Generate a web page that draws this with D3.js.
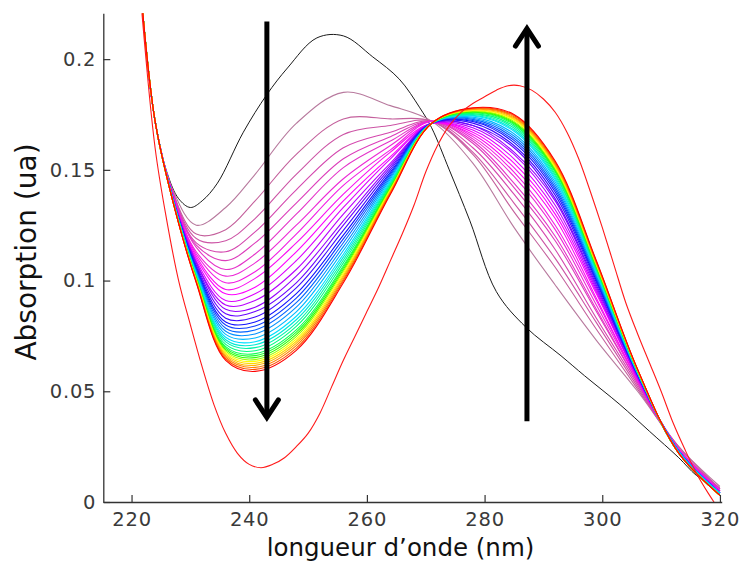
<!DOCTYPE html>
<html><head><meta charset="utf-8">
<script src="https://cdn.jsdelivr.net/npm/d3@7"></script>
<style>html,body{margin:0;padding:0;background:#fff;} svg{display:block;}</style>
</head><body>
<svg id="chart" width="741" height="564"></svg>
<script>
// ---- data ----
const wavelengths = [221.6, 224, 227, 231, 236, 241, 248, 256, 264, 271, 278, 285, 292, 299, 306, 313, 320];
const spectra = [
  [.230,.172,.141,.125,.133,.148,.171,.185,.179,.172,.153,.124,.098,.073,.050,.025,.007],
  [.230,.172,.140,.121,.123,.136,.157,.173,.173,.172,.157,.131,.106,.078,.051,.025,.006],
  [.230,.172,.140,.119,.118,.128,.148,.166,.170,.172,.158,.135,.110,.081,.052,.024,.006],
  [.230,.172,.140,.117,.113,.122,.141,.160,.167,.172,.160,.139,.114,.083,.053,.024,.006],
  [.230,.172,.139,.116,.109,.117,.135,.155,.165,.172,.162,.142,.118,.086,.054,.024,.006],
  [.230,.172,.139,.115,.105,.112,.130,.151,.163,.172,.163,.144,.120,.087,.054,.024,.005],
  [.230,.172,.139,.113,.102,.108,.125,.146,.161,.172,.164,.147,.123,.089,.055,.024,.005],
  [.230,.172,.139,.112,.099,.104,.121,.143,.159,.172,.165,.149,.125,.091,.055,.024,.005],
  [.230,.172,.138,.111,.096,.101,.117,.139,.158,.171,.166,.151,.128,.092,.055,.023,.005],
  [.230,.172,.138,.110,.094,.097,.113,.136,.156,.171,.167,.153,.130,.094,.056,.023,.005],
  [.230,.172,.138,.109,.091,.094,.109,.133,.155,.171,.168,.155,.132,.095,.056,.023,.005],
  [.230,.172,.138,.108,.089,.091,.105,.130,.153,.171,.169,.157,.134,.096,.056,.023,.004],
  [.230,.172,.138,.108,.087,.088,.102,.127,.152,.171,.170,.158,.136,.097,.057,.023,.004],
  [.230,.172,.137,.107,.085,.086,.099,.125,.151,.171,.170,.160,.137,.098,.057,.023,.004],
  [.230,.172,.137,.1062,.083,.0835,.0967,.1227,.150,.171,.1711,.161,.1386,.0991,.0573,.023,.004],
  [.230,.172,.137,.1055,.0813,.0813,.0941,.1205,.149,.171,.1718,.1623,.140,.100,.0575,.023,.004],
  [.230,.172,.137,.105,.0799,.0795,.0921,.1188,.1482,.171,.1723,.1633,.1411,.1007,.0577,.023,.004],
  [.230,.172,.137,.1045,.0785,.0777,.090,.1171,.1474,.171,.1728,.1643,.1422,.1014,.0579,.023,.004],
  [.230,.172,.137,.1039,.0771,.0759,.088,.1153,.1466,.171,.1733,.1653,.1434,.1022,.0581,.023,.004],
  [.230,.172,.137,.1034,.0757,.0741,.0859,.1136,.1458,.171,.1738,.1663,.1445,.1029,.0583,.023,.004],
  [.230,.172,.137,.1029,.0744,.0724,.0839,.1119,.145,.171,.1743,.1674,.1456,.1036,.0585,.022,.004],
  [.230,.172,.1367,.1025,.0733,.071,.0823,.1106,.1444,.171,.1746,.1681,.1464,.1041,.0587,.022,.004],
  [.230,.172,.1366,.1021,.0723,.0697,.0808,.1093,.1438,.171,.175,.1689,.1473,.1047,.0588,.022,.003],
  [.230,.172,.1365,.1017,.0712,.0683,.0793,.108,.1432,.171,.1754,.1697,.1481,.1052,.059,.022,.003],
  [.230,.172,.1365,.1013,.0702,.067,.0777,.1067,.1426,.171,.1758,.1704,.149,.1058,.0591,.022,.003],
  [.230,.172,.136,.1011,.0695,.0661,.0767,.1059,.1422,.171,.176,.1709,.1495,.1061,.0592,.022,.003],
  [.230,.172,.136,.1008,.0688,.0652,.0757,.105,.1418,.171,.1763,.1714,.1501,.1065,.0593,.022,.003],
  [.230,.172,.136,.1006,.0681,.0643,.0747,.1042,.1414,.171,.1765,.1719,.1506,.1068,.0594,.022,.003],
  [.230,.172,.136,.1003,.0675,.0635,.0736,.1033,.141,.171,.1768,.1725,.1512,.1072,.0595,.022,.003],
  [.230,.172,.136,.100,.0668,.0626,.0726,.1024,.1406,.171,.177,.173,.1518,.1076,.0596,.022,.003],
  [.230,.172,.136,.0998,.0661,.0617,.0716,.1016,.1402,.171,.1773,.1735,.1523,.1079,.0597,.022,.003],
  [.230,.172,.136,.0995,.0654,.0608,.0706,.1007,.1398,.171,.1775,.174,.1529,.1083,.0598,.022,.003],
  [.230,.172,.136,.0993,.0647,.0599,.0695,.0999,.1394,.171,.1778,.1745,.1534,.1086,.0599,.022,.003],
  [.230,.172,.136,.099,.064,.059,.0685,.099,.139,.171,.178,.175,.154,.109,.060,.022,.003]
];
const initialWl  = [221.6,224,226,228,230,232,234.6,239,243,246.5,251.5,256,261,265.5,269,271,274,277.5,282,287,293,297,303,308,313,316,320];
const initialAbs = [.230,.172,.149,.137,.133,.136,.144,.167,.184,.196,.2096,.2105,.201,.191,.178,.169,.150,.127,.095,.079,.066,.057,.044,.032,.020,.012,.005];
const finalWl  = [221.6,224,226,228,230,232,234,236,238,240,242,244,246,248,250,252,254,256,258,260,262,264,266,268,270,272,274,276,278,280,282,284,286,288,290,292,294,296,298,300,302,304,306,308,310,312,314,316,318,320];
const finalAbs = [.226,.160,.127,.100,.080,.061,.044,.031,.022,.017,.0155,.017,.020,.025,.031,.040,.052,.064,.075,.086,.097,.109,.121,.134,.149,.161,.170,.176,.180,.183,.186,.188,.188,.186,.182,.176,.167,.155,.140,.124,.107,.090,.076,.063,.050,.036,.024,.013,.004,-.004];
const xTicks = [220, 240, 260, 280, 300, 320];
const yTicks = [0, 0.05, 0.1, 0.15, 0.2];
const yTickLabels = ["0", "0.05", "0.1", "0.15", "0.2"];
const xTitle = "longueur d\u2019onde (nm)";
const yTitle = "Absorption (ua)";
const arrowWl   = [243, 287.2];
const arrowFrom = [0.217, 0.0365];
const arrowTo   = [0.0375, 0.2145];

// ---- drawing ----
const svg = d3.select("#chart");
const x = d3.scaleLinear().domain([215.2, 320.3]).range([103.3, 721.7]);
const y = d3.scaleLinear().domain([0, 0.2207]).range([502, 13.3]);

svg.append("defs").append("clipPath").attr("id", "plotclip")
  .append("rect").attr("x", x.range()[0]).attr("y", y.range()[1])
  .attr("width", x.range()[1] - x.range()[0]).attr("height", y.range()[0] - y.range()[1]);

const colorStops = [
  [0, "#b87a9e"], [1, "#c4609c"], [3, "#d447ae"], [6, "#ec2ad6"], [9, "#ff00ff"],
  [12, "#9600ff"], [15, "#1010ff"], [18, "#0090ff"], [20, "#00e0ff"], [23, "#00ff80"],
  [26, "#30ff00"], [28, "#ffff00"], [30, "#ffb000"], [32, "#ff5000"], [33, "#ff0000"]];
const color = d3.scaleLinear().domain(colorStops.map(d => d[0])).range(colorStops.map(d => d[1]))
  .interpolate(d3.interpolateRgb);

const line = d3.line().x(d => x(d[0])).y(d => y(d[1])).curve(d3.curveCatmullRom.alpha(0.5));
const plot = svg.append("g").attr("clip-path", "url(#plotclip)");

plot.append("path").attr("d", line(initialWl.map((w, i) => [w, initialAbs[i]])))
  .attr("fill", "none").attr("stroke", "#1a1a1a").attr("stroke-width", 1);

spectra.forEach((s, k) => {
  plot.append("path").attr("d", line(wavelengths.map((w, i) => [w, s[i]])))
    .attr("fill", "none").attr("stroke", color(k)).attr("stroke-width", 1.1);
});

plot.append("path").attr("d", line(finalWl.map((w, i) => [w, finalAbs[i]])))
  .attr("fill", "none").attr("stroke", "#ff1a1a").attr("stroke-width", 1.1);

// axes
const fontFam = "'DejaVu Sans', Verdana, sans-serif";
const xAxis = svg.append("g").attr("transform", `translate(0,${y.range()[0]})`)
  .call(d3.axisBottom(x).tickValues(xTicks).tickSizeInner(-7).tickSizeOuter(0).tickPadding(10));
const yAxis = svg.append("g").attr("transform", `translate(${x.range()[0]},0)`)
  .call(d3.axisLeft(y).tickValues(yTicks).tickFormat((d, i) => yTickLabels[i])
    .tickSizeInner(-7).tickSizeOuter(0).tickPadding(7));
[xAxis, yAxis].forEach(g => {
  g.attr("font-family", fontFam).attr("font-size", 19.5);
  g.selectAll("path.domain").attr("stroke", "#333").attr("stroke-width", 1.3);
  g.selectAll(".tick line").attr("stroke", "#333").attr("stroke-width", 1.2);
  g.selectAll(".tick text").attr("fill", "#3a3a3a").attr("letter-spacing", "0.8px");
});

svg.append("text").attr("x", 400.5).attr("y", 556).attr("text-anchor", "middle")
  .attr("font-family", fontFam).attr("font-size", 24.5).attr("fill", "#111").text(xTitle);
svg.append("text").attr("transform", "translate(36,252) rotate(-90)").attr("text-anchor", "middle")
  .attr("font-family", fontFam).attr("font-size", 28).attr("fill", "#111").text(yTitle);

// arrows
arrowWl.forEach((w, i) => {
  const ax = x(w), y0 = y(arrowFrom[i]), y1 = y(arrowTo[i]);
  const dir = y1 > y0 ? 1 : -1;
  svg.append("line").attr("x1", ax).attr("x2", ax).attr("y1", y0).attr("y2", y1 - dir * 2)
    .attr("stroke", "#000").attr("stroke-width", 5);
  svg.append("polyline")
    .attr("points", [[ax - 11.5, y1 - dir * 19], [ax, y1 - dir * 1.5], [ax + 11.5, y1 - dir * 19]].map(p => p.join(",")).join(" "))
    .attr("fill", "none").attr("stroke", "#000").attr("stroke-width", 5)
    .attr("stroke-linejoin", "miter").attr("stroke-linecap", "round");
});
</script>
</body></html>
